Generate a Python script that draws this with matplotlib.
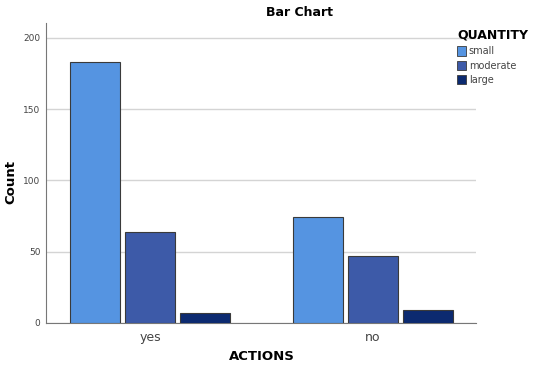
import numpy as np
import matplotlib.pyplot as plt
from matplotlib.patches import Patch

# data
actions = ['yes', 'no']
quantities = ['small', 'moderate', 'large']
small = [183, 74]
moderate = [64, 47]
large = [7, 9]
colors = ['#5594e1', '#3d5aa8', '#0c2a70']

fig = plt.figure(figsize=(5.5, 3.71), dpi=100)
ax = fig.add_axes([0.0836, 0.130, 0.782, 0.808])

x = np.arange(len(actions))
width = 0.2247
step = 0.247
for i, (vals, c) in enumerate(zip([small, moderate, large], colors)):
    ax.bar(x + (i - 1) * step, vals, width, color=c, edgecolor='#3a3a3a',
           linewidth=0.8, zorder=3)

ax.set_xlim(-0.467, 1.465)
ax.set_ylim(0, 210.5)
ax.set_yticks([0, 50, 100, 150, 200])
ax.set_xticks(x)
ax.set_xticklabels(actions, fontsize=9, color='#444444')
ax.tick_params(axis='y', labelsize=6.5, colors='#444444', length=0, pad=4)
ax.tick_params(axis='x', length=0, pad=6)
ax.yaxis.grid(True, color='#d4d4d4', linewidth=1, zorder=0)
for s in ['top', 'right']:
    ax.spines[s].set_visible(False)
ax.spines['left'].set_color('#777777')
ax.spines['bottom'].set_color('#777777')

ax.set_ylabel('Count', fontsize=9.5, fontweight='bold')
ax.set_xlabel('ACTIONS', fontsize=9.5, fontweight='bold')
# place axis labels where the reference has them (pixel positions)
ax.yaxis.set_label_coords((11 - 46) / 430, 0.47)
ax.xaxis.set_label_coords((262 - 46) / 430, -(356 - 322.7) / 299.7)
ax.xaxis.label.set_va('center')
ax.yaxis.label.set_va('center')
fig.text(300 / 550, 1 - 12 / 371, 'Bar Chart', ha='center', va='center',
         fontsize=9, fontweight='bold')

# legend
handles = [Patch(facecolor=c, edgecolor='#3a3a3a', linewidth=0.6) for c in colors]
leg = fig.legend(handles, quantities, loc='upper left',
                 bbox_to_anchor=(457 / 550, 1 - 29 / 371), frameon=False,
                 title='QUANTITY', fontsize=7, handlelength=0.9,
                 handleheight=1.1, handletextpad=0.3, labelspacing=0.45,
                 borderaxespad=0, borderpad=0)
leg.get_title().set_fontweight('bold')
leg.get_title().set_fontsize(9)
leg._legend_box.align = 'left'
for t in leg.get_texts():
    t.set_color('#444444')

fig.savefig('out.png', dpi=100)
